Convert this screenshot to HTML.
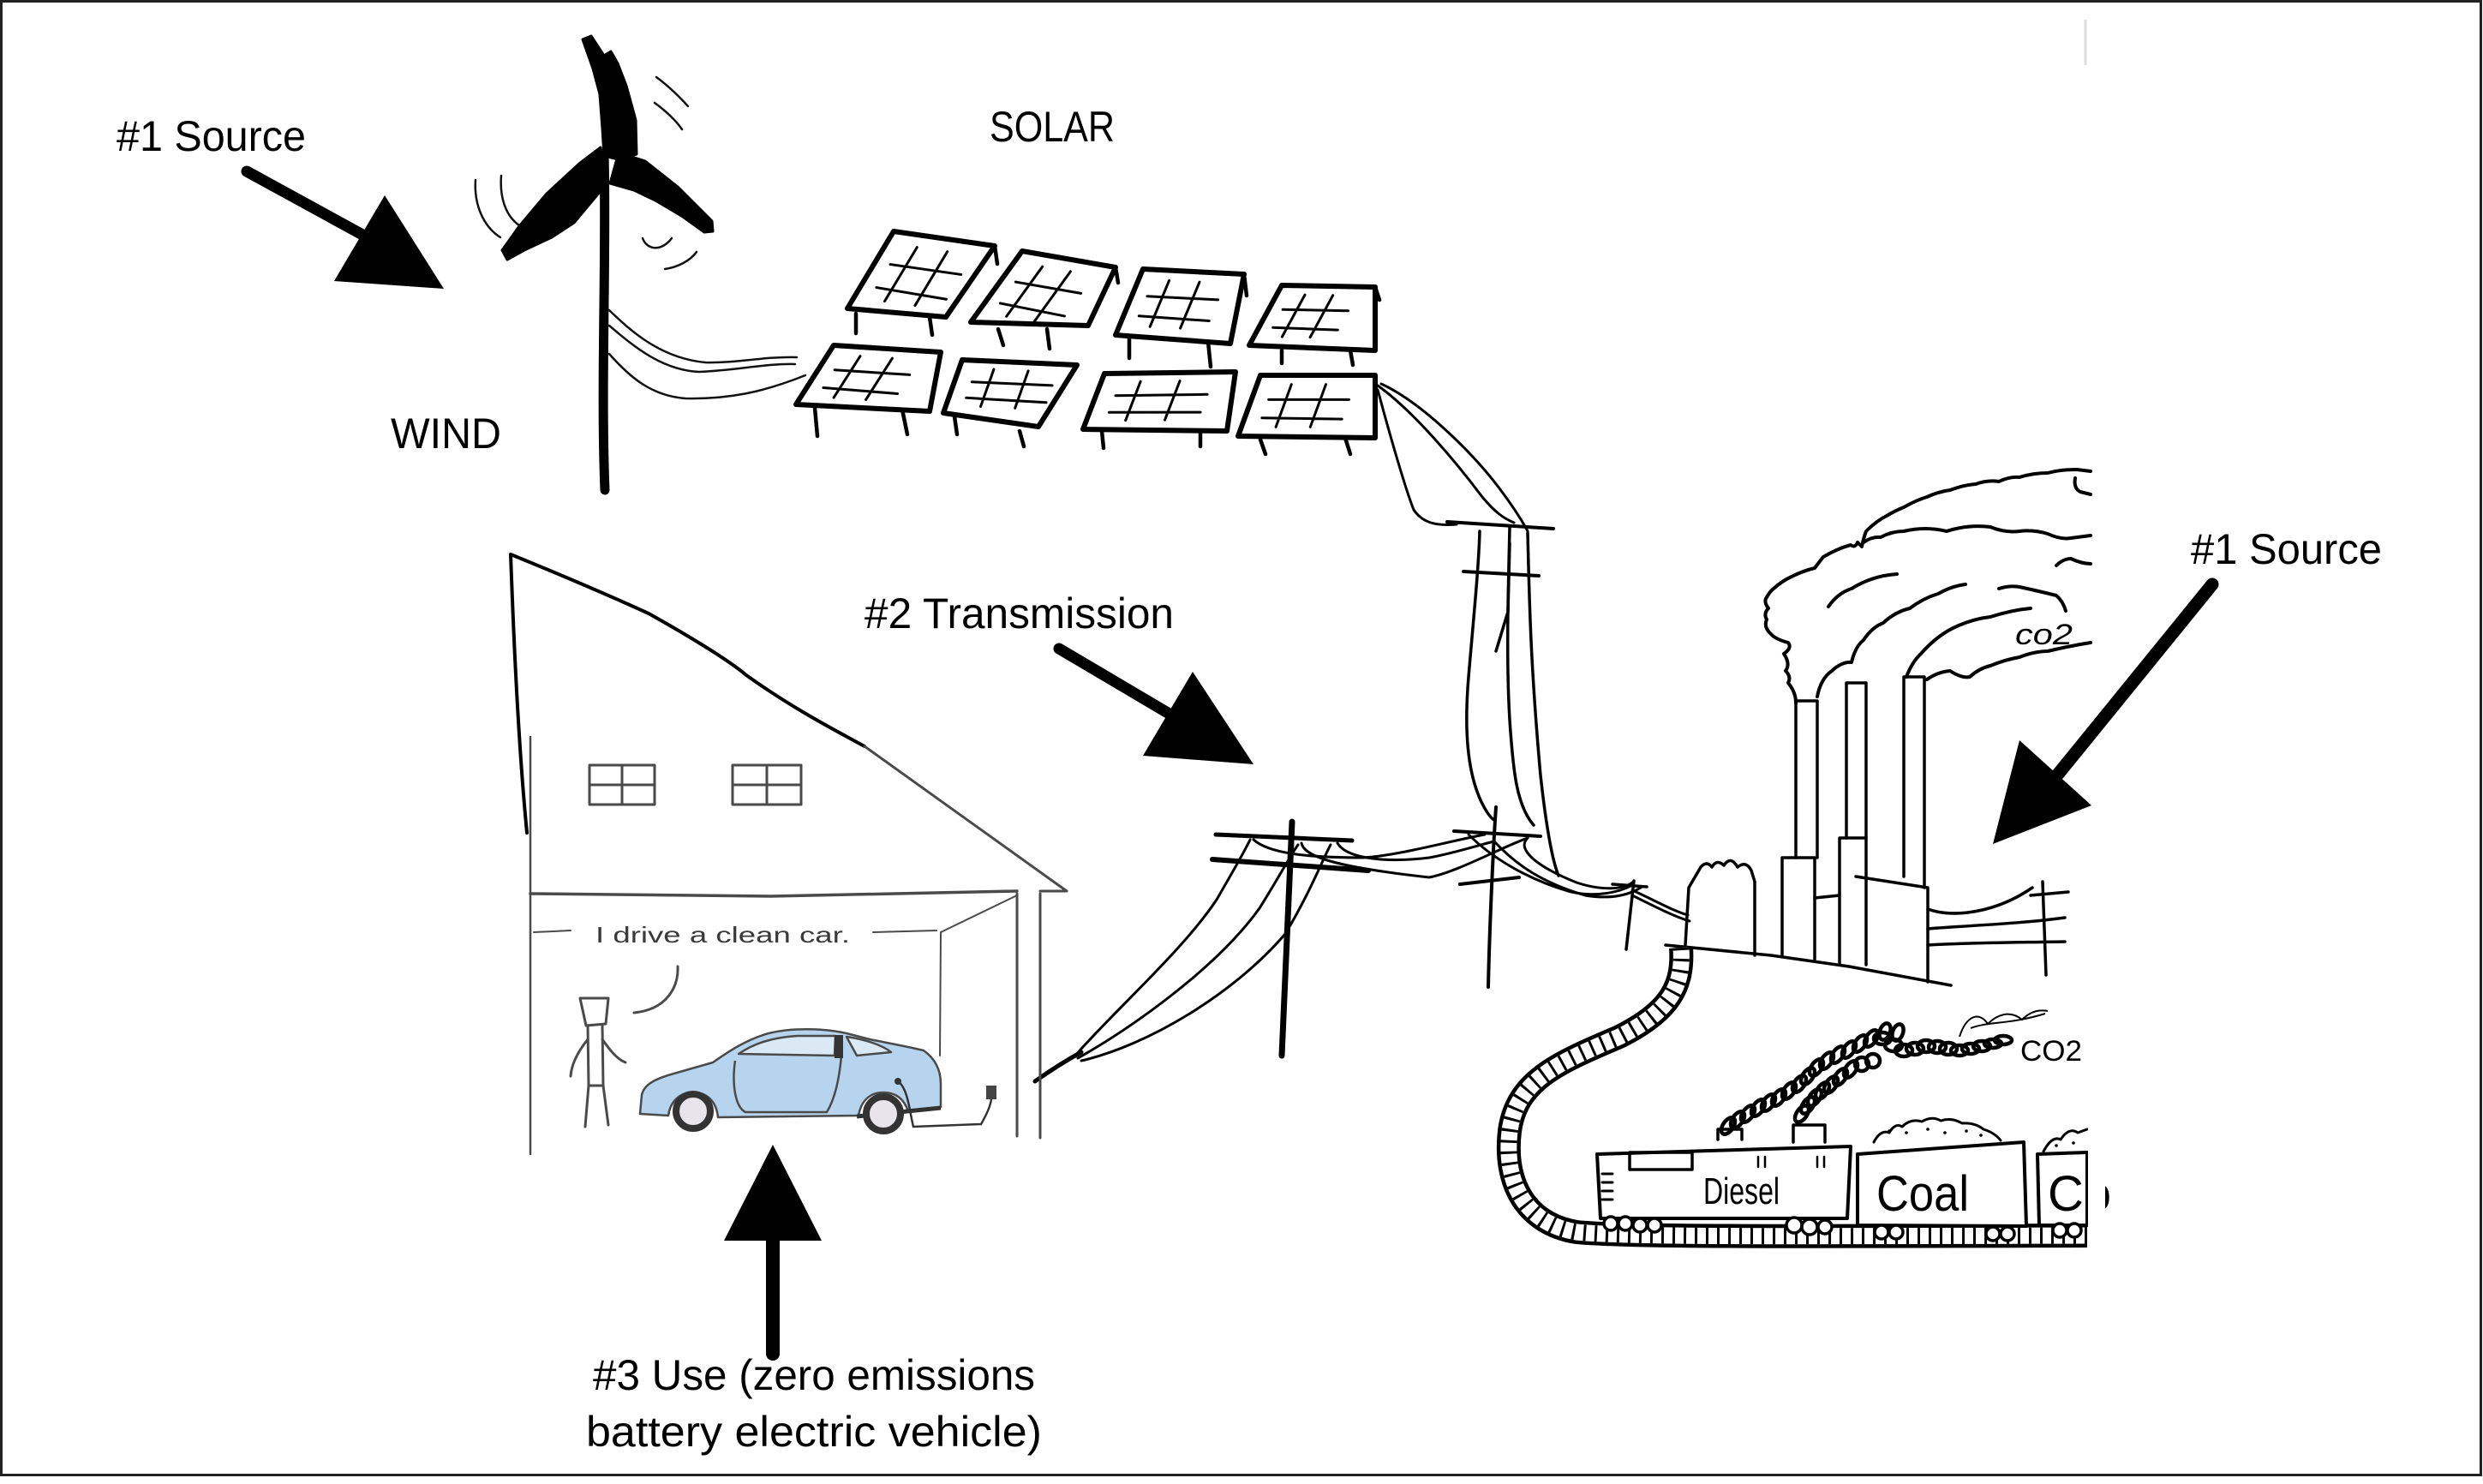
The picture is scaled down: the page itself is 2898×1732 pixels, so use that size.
<!DOCTYPE html>
<html>
<head>
<meta charset="utf-8">
<style>
html,body{margin:0;padding:0;background:#fff;}
svg{display:block;}
text{font-family:"Liberation Sans",sans-serif;}
</style>
</head>
<body>
<svg width="2898" height="1732" viewBox="0 0 2898 1732" xmlns="http://www.w3.org/2000/svg">
<rect x="0" y="0" width="2898" height="1732" fill="#fff"/>
<rect x="1.5" y="1.5" width="2894" height="1720" fill="none" stroke="#222" stroke-width="3"/>
<line x1="2434" y1="23" x2="2434" y2="76" stroke="#ddd" stroke-width="3"/>

<!-- LABELS -->
<g fill="#000" font-size="50">
<text x="136" y="176" textLength="221" lengthAdjust="spacingAndGlyphs">#1 Source</text>
<text x="1155" y="165" textLength="146" lengthAdjust="spacingAndGlyphs">SOLAR</text>
<text x="456" y="523" textLength="129" lengthAdjust="spacingAndGlyphs">WIND</text>
<text x="1009" y="733" textLength="361" lengthAdjust="spacingAndGlyphs">#2 Transmission</text>
<text x="2557" y="658" textLength="223" lengthAdjust="spacingAndGlyphs">#1 Source</text>
<text x="692" y="1622" textLength="516" lengthAdjust="spacingAndGlyphs">#3 Use (zero emissions</text>
<text x="684" y="1688" textLength="532" lengthAdjust="spacingAndGlyphs">battery electric vehicle)</text>
</g>

<!-- ARROWS -->
<g fill="#000" stroke="#000" stroke-linecap="round">
<line x1="288" y1="200" x2="425" y2="275" stroke-width="13"/>
<polygon points="449,228 390,328 518,337" stroke="none"/>
<line x1="1236" y1="757" x2="1368" y2="835" stroke-width="13"/>
<polygon points="1392,784 1334,882 1463,892" stroke="none"/>
<line x1="902" y1="1440" x2="902" y2="1580" stroke-width="16"/>
<polygon points="902,1336 845,1448 959,1448" stroke="none"/>
<line x1="2582" y1="682" x2="2400" y2="906" stroke-width="15"/>
<polygon points="2357,864 2326,985 2441,940" stroke="none"/>
</g>

<!-- WIND TURBINE -->
<g fill="#000" stroke="#000" stroke-linejoin="round" stroke-linecap="round">
<path d="M705,180 C708,300 701,450 706,572" fill="none" stroke-width="11"/>
<polygon points="680,46 690,42 705,65 713,60 721,74 731,100 742,140 743,180 722,186 705,182 703,150 700,110 692,80" stroke-width="3"/>
<polygon points="701,172 676,191 638,226 606,264 586,292 592,303 612,292 644,277 670,260 695,230 708,215" stroke-width="3"/>
<polygon points="722,178 753,188 791,218 831,258 832,270 822,271 797,253 765,234 740,222 712,214" stroke-width="3"/>
</g>
<g fill="none" stroke="#111" stroke-width="2.5" stroke-linecap="round">
<path d="M555,210 C553,240 565,265 584,277"/>
<path d="M585,205 C583,230 590,252 606,263"/>
<path d="M766,90 C780,100 795,115 803,124"/>
<path d="M764,120 C778,130 790,142 796,151"/>
<path d="M750,278 C755,292 772,294 784,278"/>
<path d="M776,314 C790,312 805,305 813,294"/>
<path d="M711,362 C735,385 770,418 823,423 C860,424 890,416 930,417"/>
<path d="M711,380 C735,400 770,432 816,434 C860,432 895,424 928,425"/>
<path d="M711,413 C735,440 760,462 800,465 C850,466 890,458 940,438"/>
</g>

<!-- SOLAR PANELS -->
<g fill="none" stroke="#000" stroke-linejoin="round" stroke-linecap="round">
<g stroke-width="6">
<path d="M1043,270 L1161,287 L1104,370 L989,360 Z"/>
<path d="M1193,293 L1302,312 L1270,380 L1133,376 Z"/>
<path d="M1334,314 L1452,320 L1436,401 L1302,391 Z"/>
<path d="M1496,333 L1605,335 L1605,409 L1458,403 Z"/>
<path d="M973,403 L1098,411 L1085,480 L929,472 Z"/>
<path d="M1123,420 L1257,426 L1212,498 L1101,482 Z"/>
<path d="M1289,436 L1442,434 L1432,503 L1264,501 Z"/>
<path d="M1471,438 L1605,438 L1605,511 L1445,509 Z"/>
</g>
<g stroke-width="4.5">
<path d="M999,366 L999,389 M1085,370 L1088,391"/>
<path d="M1165,384 L1171,403 M1222,384 L1225,407"/>
<path d="M1318,395 L1318,418 M1410,399 L1413,428"/>
<path d="M1496,409 L1496,424 M1576,409 L1579,426"/>
<path d="M951,476 L954,509 M1053,478 L1059,507"/>
<path d="M1114,486 L1117,507 M1190,503 L1195,521"/>
<path d="M1286,503 L1288,523 M1401,503 L1401,521"/>
<path d="M1471,513 L1477,530 M1570,511 L1576,530"/>
<path d="M1161,287 L1164,308 M1302,312 L1305,330 M1452,320 L1455,345 M1605,335 L1610,350"/>
</g>
<g stroke-width="3">
<path transform="matrix(118,17,-54,90,1043,270)" vector-effect="non-scaling-stroke" d="M0.3,0.15 L0.3,0.85 M0.6,0.15 L0.6,0.85 M0.15,0.4 L0.85,0.4 M0.15,0.7 L0.85,0.72"/>
<path transform="matrix(109,19,-60,83,1193,293)" vector-effect="non-scaling-stroke" d="M0.3,0.15 L0.3,0.85 M0.6,0.15 L0.6,0.85 M0.15,0.4 L0.85,0.4 M0.15,0.7 L0.85,0.72"/>
<path transform="matrix(118,6,-32,77,1334,314)" vector-effect="non-scaling-stroke" d="M0.3,0.15 L0.3,0.85 M0.6,0.15 L0.6,0.85 M0.15,0.4 L0.85,0.4 M0.15,0.7 L0.85,0.72"/>
<path transform="matrix(109,2,-38,70,1496,333)" vector-effect="non-scaling-stroke" d="M0.3,0.15 L0.3,0.85 M0.6,0.15 L0.6,0.85 M0.15,0.4 L0.85,0.4 M0.15,0.7 L0.85,0.72"/>
<path transform="matrix(125,8,-44,69,973,403)" vector-effect="non-scaling-stroke" d="M0.3,0.15 L0.3,0.85 M0.6,0.15 L0.6,0.85 M0.15,0.4 L0.85,0.4 M0.15,0.7 L0.85,0.72"/>
<path transform="matrix(134,6,-22,62,1123,420)" vector-effect="non-scaling-stroke" d="M0.3,0.15 L0.3,0.85 M0.6,0.15 L0.6,0.85 M0.15,0.4 L0.85,0.4 M0.15,0.7 L0.85,0.72"/>
<path transform="matrix(153,-2,-25,65,1289,436)" vector-effect="non-scaling-stroke" d="M0.3,0.15 L0.3,0.85 M0.6,0.15 L0.6,0.85 M0.15,0.4 L0.85,0.4 M0.15,0.7 L0.85,0.72"/>
<path transform="matrix(134,0,-26,71,1471,438)" vector-effect="non-scaling-stroke" d="M0.3,0.15 L0.3,0.85 M0.6,0.15 L0.6,0.85 M0.15,0.4 L0.85,0.4 M0.15,0.7 L0.85,0.72"/>
</g>
</g>

<!-- TRANSMISSION LINES / TOWERS -->
<g fill="none" stroke="#000" stroke-linecap="round" stroke-linejoin="round">
<g stroke-width="3">
<path d="M1608,455 C1620,500 1640,570 1650,595 C1660,610 1675,614 1700,612"/>
<path d="M1608,450 C1650,480 1700,540 1730,580 C1745,598 1755,605 1767,610"/>
<path d="M1612,448 C1660,470 1720,530 1750,570 C1765,590 1775,605 1783,620"/>
</g>
<g stroke-width="3.5">
<path d="M1727,620 C1726,660 1720,720 1714,790 C1709,850 1712,900 1729,936 C1735,948 1740,955 1744,957"/>
<path d="M1762,616 C1760,700 1758,771 1762,840 C1766,900 1770,940 1790,963"/>
<path d="M1762,634 L1760,714 L1746,760"/>
<path d="M1783,622 C1785,700 1786,771 1798,905 C1803,950 1810,1000 1819,1022"/>
</g>
<path d="M1689,609 L1813,617" stroke-width="4"/>
<path d="M1708,667 L1796,672" stroke-width="4"/>
<path d="M1508,959 L1496,1232" stroke-width="7"/>
<path d="M1419,974 L1578,981" stroke-width="5"/>
<path d="M1415,1003 L1597,1016" stroke-width="6"/>
<g stroke-width="3">
<path d="M1255,1232 C1300,1180 1380,1110 1420,1050 C1440,1015 1452,995 1459,980"/>
<path d="M1258,1235 C1320,1200 1420,1130 1470,1060 C1495,1020 1508,995 1515,986"/>
<path d="M1262,1238 C1340,1220 1440,1160 1500,1090 C1530,1040 1545,1000 1553,986"/>
<path d="M1463,980 C1480,995 1520,1001 1591,1001 C1630,999 1690,982 1733,974"/>
<path d="M1519,984 C1522,1000 1560,1012 1668,1024 C1700,1018 1750,990 1783,978"/>
<path d="M1561,984 C1570,1000 1610,1008 1668,1001 C1700,995 1730,985 1744,982"/>
</g>
<path d="M1208,1262 C1225,1250 1240,1240 1262,1228" stroke-width="5"/>
<path d="M1746,942 C1742,1000 1738,1100 1737,1152" stroke-width="4"/>
<path d="M1697,970 L1798,976" stroke-width="4"/>
<path d="M1704,1032 L1773,1024" stroke-width="4"/>
<g stroke-width="3">
<path d="M1714,974 C1740,1000 1780,1025 1830,1040 C1860,1048 1890,1042 1907,1032"/>
<path d="M1744,982 C1770,1010 1800,1030 1850,1045 C1880,1050 1900,1045 1915,1036"/>
<path d="M1783,978 C1770,990 1790,1010 1840,1030 C1870,1040 1895,1038 1905,1030"/>
<path d="M1905,1039 C1930,1050 1950,1062 1970,1068"/>
<path d="M1905,1045 C1935,1060 1955,1070 1972,1075"/>
</g>
<path d="M1907,1028 L1898,1108" stroke-width="3.5"/>
<path d="M1882,1032 L1922,1035" stroke-width="3.5"/>
</g>

<!-- HOUSE (hand drawn) -->
<g fill="none" stroke="#000" stroke-width="4" stroke-linecap="round">
<path d="M596,647 C640,665 700,690 757,716 C800,740 850,770 871,788 C930,830 980,855 1009,871"/>
<path d="M596,647 C600,760 606,880 615,972"/>
</g>
<g fill="none" stroke="#4a4a4a" stroke-linecap="round" stroke-linejoin="round">
<path d="M619,860 L619,1347" stroke-width="2.5"/>
<path d="M1009,871 L1245,1040 L1214,1040" stroke-width="3"/>
<path d="M619,1043 L900,1046 L1187,1040" stroke-width="3.5"/>
<path d="M1187,1043 L1187,1326" stroke-width="3"/>
<path d="M1214,1043 L1214,1328" stroke-width="3"/>
<path d="M1187,1045 L1098,1088 L1097,1232" stroke-width="2"/>
<rect x="688" y="893" width="76" height="46" stroke-width="3"/>
<path d="M726,893 L726,939 M688,916 L764,916" stroke-width="3"/>
<rect x="855" y="893" width="80" height="46" stroke-width="3"/>
<path d="M895,893 L895,939 M855,916 L935,916" stroke-width="3"/>
<path d="M623,1088 L666,1086" stroke-width="2"/>
<path d="M1019,1088 L1093,1086" stroke-width="2"/>
<path d="M791,1128 C792,1150 780,1178 740,1182" stroke-width="3"/>
<path d="M677,1165 L710,1165 L707,1195 L684,1197 Z" stroke-width="3"/>
<path d="M686,1197 L687,1267 L683,1315 M703,1197 L704,1267 L710,1313 M686,1213 C674,1228 667,1242 666,1256 M703,1213 C712,1226 720,1236 730,1240 M687,1267 L704,1267" stroke-width="3"/>
</g>
<text x="695" y="1100" font-size="26" fill="#3a3a3a" textLength="297" lengthAdjust="spacingAndGlyphs">I drive a clean car.</text>
<!-- car -->
<g stroke="#4a4a4a" stroke-width="2.5" stroke-linejoin="round">
<path d="M747,1300 L749,1278 C752,1264 768,1258 790,1252 L832,1240 C852,1226 872,1213 897,1206 C925,1199 965,1200 992,1207 L1015,1213 C1040,1218 1062,1222 1078,1226 C1092,1236 1098,1250 1098,1265 L1098,1292 L1060,1297 C1055,1282 1045,1275 1031,1275 C1015,1275 1005,1285 1002,1302 L838,1304 C836,1285 825,1275 809,1275 C792,1275 782,1287 780,1302 Z" fill="#b6d4ee"/>
<path d="M862,1230 C880,1218 900,1211 930,1209 L975,1209 L974,1232 Z" fill="#dbe9f5"/>
<path d="M988,1210 C1010,1213 1030,1220 1040,1228 L1000,1232 Z" fill="#dbe9f5"/>
<path d="M858,1238 C854,1265 858,1292 870,1298 L965,1298 C976,1280 980,1255 982,1232" fill="none"/>
<path d="M1000,1303 L1098,1293" fill="none" stroke="#333" stroke-width="5"/>
</g>
<rect x="974" y="1208" width="10" height="27" fill="#333"/>
<circle cx="809" cy="1297" r="20" fill="#e8e4ec" stroke="#333" stroke-width="8"/>
<circle cx="1031" cy="1300" r="20" fill="#e8e4ec" stroke="#333" stroke-width="8"/>
<path d="M1048,1262 C1060,1270 1062,1300 1066,1315 L1145,1312 C1152,1300 1156,1290 1157,1283" fill="none" stroke="#333" stroke-width="2.5"/>
<rect x="1151" y="1267" width="12" height="16" fill="#444"/>
<circle cx="1048" cy="1262" r="4" fill="#333"/>

<!-- FACTORY -->
<g fill="none" stroke="#000" stroke-width="4" stroke-linecap="round" stroke-linejoin="round">
<path d="M2096,820 Q2096,808 2087,797 Q2091,790 2084,783 Q2090,775 2082,763 Q2092,756 2087,750 Q2072,746 2067,740 Q2058,732 2062,723 Q2058,716 2064,710 Q2058,702 2062,697 Q2066,690 2070,687 Q2080,678 2091,673 Q2105,666 2118,663 Q2124,655 2128,650 Q2145,640 2160,636 Q2165,640 2168,633 L2173,638 Q2175,628 2178,620 Q2190,608 2202,602 Q2212,596 2222,592 Q2236,584 2249,580 Q2262,574 2276,572 Q2292,566 2306,565 Q2320,560 2333,562 Q2345,556 2357,557 Q2373,552 2390,552 Q2405,548 2424,548 L2440,550"/>
<path d="M2175,633 Q2185,626 2195,627 Q2208,620 2222,620 Q2247,614 2272,620 Q2297,612 2323,615 Q2340,622 2357,620 Q2373,618 2390,623 Q2405,630 2417,628 L2440,625"/>
<path d="M2134,708 Q2145,692 2161,687 Q2185,672 2214,670"/>
<path d="M2121,813 Q2125,792 2138,783 Q2150,772 2161,773 Q2165,755 2175,747 Q2185,732 2198,727 Q2212,714 2229,710 Q2245,698 2262,693 Q2278,684 2294,682"/>
<path d="M2333,687 Q2345,683 2357,685 Q2380,690 2400,695 Q2408,702 2411,713"/>
<path d="M2400,660 Q2408,652 2417,652 Q2430,658 2440,658"/>
<path d="M2422,558 Q2420,570 2428,574 L2440,577"/>
<path d="M2225,790 Q2232,772 2242,763 Q2262,740 2286,730 Q2305,722 2323,720 Q2348,712 2370,710"/>
<path d="M2249,793 Q2262,784 2276,783 Q2290,792 2299,790 Q2310,780 2323,777 Q2340,770 2357,767 Q2375,760 2390,760 Q2415,754 2440,750"/>
</g>
<g fill="none" stroke="#000" stroke-width="3.5" stroke-linecap="round" stroke-linejoin="round">
<path d="M2096,818 L2121,818 M2096,818 L2096,1001 M2121,818 L2121,1001"/>
<path d="M2080,1001 L2118,1001 L2118,1120 M2080,1001 L2080,1115"/>
<path d="M2155,797 L2178,797 M2155,797 L2155,978 M2178,797 L2178,978"/>
<path d="M2147,978 L2178,978 L2178,1126 M2147,978 L2147,1124"/>
<path d="M2222,790 L2246,790 M2222,790 L2222,1023 M2246,790 L2246,1036"/>
<path d="M2166,1023 L2250,1036 L2250,1146"/>
<path d="M2118,1048 L2147,1045"/>
<path d="M1971,1036 L1967,1103 M1971,1036 L1985,1012 Q1992,1004 1998,1012 Q2004,1002 2012,1010 Q2020,998 2028,1012 Q2038,1004 2044,1016 L2048,1029 L2048,1115"/>
<path d="M1944,1103 L2067,1115 L2158,1128 L2277,1150"/>
<path d="M2250,1061 C2280,1072 2330,1065 2372,1036"/>
<path d="M2250,1084 C2300,1080 2360,1078 2410,1071"/>
<path d="M2250,1103 C2300,1100 2360,1100 2410,1099"/>
<path d="M2384,1029 L2388,1138 M2370,1045 L2414,1041"/>
</g>
<text x="2352" y="752" font-size="34" font-style="italic" fill="#000" textLength="67" lengthAdjust="spacingAndGlyphs">co2</text>

<!-- TRACK -->
<g fill="none" stroke-linecap="butt" stroke-linejoin="round">
<path d="M1962,1106 C1965,1150 1950,1180 1890,1210 C1820,1240 1770,1260 1762,1320 C1755,1380 1780,1428 1840,1438 C1900,1444 2100,1443 2436,1442" stroke="#000" stroke-width="28"/>
<path d="M1962,1106 C1965,1150 1950,1180 1890,1210 C1820,1240 1770,1260 1762,1320 C1755,1380 1780,1428 1840,1438 C1900,1444 2100,1443 2436,1442" stroke="#fff" stroke-width="19"/>
<path d="M1962,1106 C1965,1150 1950,1180 1890,1210 C1820,1240 1770,1260 1762,1320 C1755,1380 1780,1428 1840,1438 C1900,1444 2100,1443 2436,1442" stroke="#000" stroke-width="19" stroke-dasharray="3 10"/>
</g>

<!-- TRAIN -->
<g fill="#fff" stroke="#000" stroke-width="4" stroke-linejoin="round" stroke-linecap="round">
<path d="M1864,1347 L2160,1338 L2156,1422 L1868,1422 Z"/>
<path d="M2168,1347 L2362,1333 L2365,1431 L2168,1430 Z"/>
<path d="M2378,1347 L2436,1345 L2436,1430 L2380,1430 Z"/>
<rect x="1902" y="1345" width="73" height="20" fill="none" stroke-width="3.5"/>
<path d="M2005,1330 L2005,1318 L2033,1318 L2033,1330 M2093,1333 L2093,1313 L2130,1313 L2130,1333" fill="none" stroke-width="3.5"/>
<path d="M2052,1350 L2052,1362 M2060,1350 L2060,1362 M2121,1350 L2121,1362 M2129,1350 L2129,1362" fill="none" stroke-width="2.5"/>
<path d="M1870,1370 L1882,1370 M1870,1380 L1882,1380 M1870,1390 L1882,1390 M1870,1400 L1882,1400" fill="none" stroke-width="3"/>
<path d="M2187,1333 Q2195,1318 2205,1322 Q2212,1310 2220,1315 Q2230,1305 2243,1309 Q2255,1302 2265,1308 Q2278,1304 2290,1311 Q2305,1310 2315,1318 Q2328,1322 2335,1331" fill="none" stroke-width="3"/>
<path d="M2385,1344 Q2395,1325 2405,1330 Q2415,1315 2425,1322 L2436,1318" fill="none" stroke-width="3"/>
</g>
<g fill="#000">
<circle cx="2205" cy="1320" r="1.8"/><circle cx="2225" cy="1322" r="1.8"/><circle cx="2250" cy="1318" r="1.8"/><circle cx="2270" cy="1322" r="1.8"/><circle cx="2295" cy="1320" r="1.8"/><circle cx="2312" cy="1325" r="1.8"/><circle cx="2400" cy="1337" r="1.8"/><circle cx="2420" cy="1334" r="1.8"/>
</g>
<g fill="#fff" stroke="#000" stroke-width="3.5">
<circle cx="1880" cy="1428" r="8"/><circle cx="1897" cy="1428" r="8"/><circle cx="1914" cy="1430" r="8"/><circle cx="1931" cy="1430" r="8"/>
<circle cx="2094" cy="1430" r="9"/><circle cx="2112" cy="1432" r="9"/><circle cx="2130" cy="1432" r="8"/>
<circle cx="2196" cy="1438" r="8"/><circle cx="2213" cy="1438" r="8"/>
<circle cx="2326" cy="1440" r="8"/><circle cx="2343" cy="1440" r="8"/>
<circle cx="2404" cy="1436" r="8"/><circle cx="2421" cy="1436" r="8"/>
</g>
<g fill="#000">
<text x="1988" y="1405" font-size="44" textLength="89" lengthAdjust="spacingAndGlyphs">Diesel</text>
<text x="2190" y="1413" font-size="58" textLength="108" lengthAdjust="spacingAndGlyphs">Coal</text>
<text x="2390" y="1413" font-size="58">Co</text>
</g>
<rect x="2437" y="1300" width="20" height="160" fill="#fff"/>

<!-- DIESEL SMOKE -->
<g fill="none" stroke="#000" stroke-width="4.5">
<ellipse cx="2017" cy="1314" rx="6" ry="11" transform="rotate(35 2017 1314)"/>
<ellipse cx="2028" cy="1307" rx="6" ry="11" transform="rotate(35 2028 1307)"/>
<ellipse cx="2040" cy="1300" rx="6" ry="11" transform="rotate(35 2040 1300)"/>
<ellipse cx="2052" cy="1293" rx="6" ry="11" transform="rotate(35 2052 1293)"/>
<ellipse cx="2064" cy="1287" rx="6" ry="11" transform="rotate(35 2064 1287)"/>
<ellipse cx="2076" cy="1281" rx="6" ry="11" transform="rotate(35 2076 1281)"/>
<ellipse cx="2088" cy="1273" rx="6" ry="11" transform="rotate(35 2088 1273)"/>
<ellipse cx="2100" cy="1265" rx="6" ry="11" transform="rotate(35 2100 1265)"/>
<ellipse cx="2110" cy="1256" rx="6" ry="11" transform="rotate(35 2110 1256)"/>
<ellipse cx="2120" cy="1246" rx="6" ry="11" transform="rotate(35 2120 1246)"/>
<ellipse cx="2132" cy="1238" rx="6" ry="11" transform="rotate(35 2132 1238)"/>
<ellipse cx="2145" cy="1231" rx="6" ry="11" transform="rotate(35 2145 1231)"/>
<ellipse cx="2158" cy="1225" rx="6" ry="11" transform="rotate(35 2158 1225)"/>
<ellipse cx="2171" cy="1218" rx="6" ry="11" transform="rotate(35 2171 1218)"/>
<ellipse cx="2184" cy="1212" rx="6" ry="11" transform="rotate(35 2184 1212)"/>
<ellipse cx="2197" cy="1212" rx="10" ry="7"/>
<ellipse cx="2210" cy="1220" rx="10" ry="7"/>
<ellipse cx="2222" cy="1226" rx="10" ry="7"/>
<ellipse cx="2235" cy="1224" rx="10" ry="7"/>
<ellipse cx="2248" cy="1221" rx="10" ry="7"/>
<ellipse cx="2261" cy="1222" rx="10" ry="7"/>
<ellipse cx="2274" cy="1224" rx="10" ry="7"/>
<ellipse cx="2287" cy="1226" rx="10" ry="6"/>
<ellipse cx="2300" cy="1224" rx="10" ry="6"/>
<ellipse cx="2313" cy="1221" rx="10" ry="6"/>
<ellipse cx="2326" cy="1218" rx="10" ry="5"/>
<ellipse cx="2338" cy="1214" rx="10" ry="5"/>
<ellipse cx="2103" cy="1300" rx="6" ry="11" transform="rotate(35 2103 1300)"/>
<ellipse cx="2110" cy="1290" rx="6" ry="11" transform="rotate(35 2110 1290)"/>
<ellipse cx="2118" cy="1281" rx="6" ry="11" transform="rotate(35 2118 1281)"/>
<ellipse cx="2127" cy="1273" rx="6" ry="11" transform="rotate(35 2127 1273)"/>
<ellipse cx="2137" cy="1266" rx="6" ry="11" transform="rotate(35 2137 1266)"/>
<ellipse cx="2148" cy="1257" rx="6" ry="11" transform="rotate(35 2148 1257)"/>
<ellipse cx="2160" cy="1248" rx="6" ry="11" transform="rotate(35 2160 1248)"/>
<ellipse cx="2173" cy="1242" rx="8" ry="8"/>
<ellipse cx="2186" cy="1238" rx="8" ry="8"/>
<ellipse cx="2200" cy="1204" rx="6" ry="10" transform="rotate(20 2200 1204)"/>
<ellipse cx="2215" cy="1205" rx="6" ry="10" transform="rotate(20 2215 1205)"/>
</g>
<g fill="none" stroke="#000" stroke-width="2">
<path d="M2287,1210 C2295,1185 2310,1180 2320,1195 C2330,1185 2345,1178 2360,1190 C2370,1180 2380,1178 2390,1180"/>
<path d="M2300,1200 C2320,1192 2345,1196 2387,1183"/>
</g>
<text x="2358" y="1238" font-size="34" fill="#000" textLength="72" lengthAdjust="spacingAndGlyphs">CO2</text>
</svg>
</body>
</html>
